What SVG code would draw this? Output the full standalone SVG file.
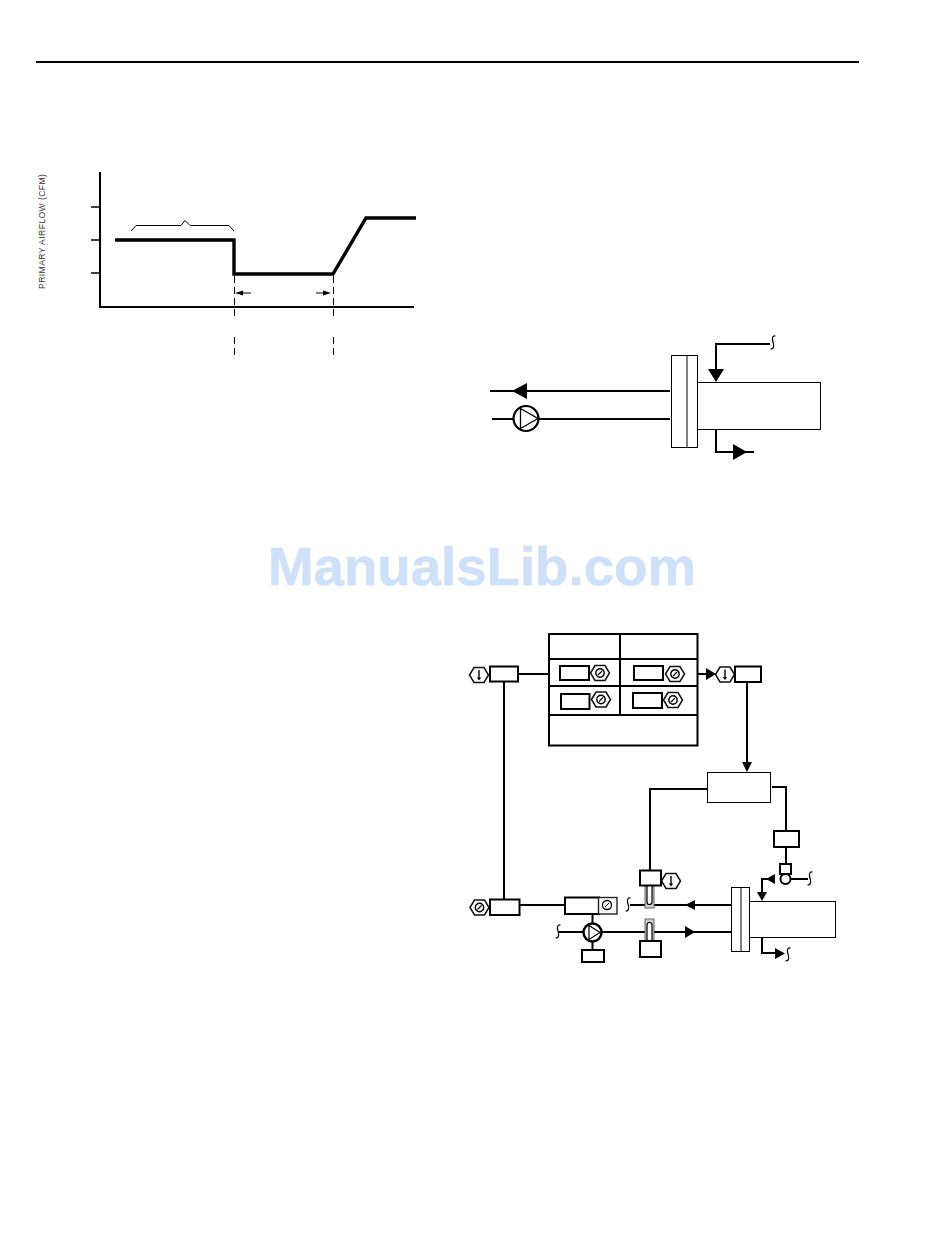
<svg xmlns="http://www.w3.org/2000/svg" width="950" height="1241" viewBox="0 0 950 1241">
<style>
.l{fill:none;stroke:#000;stroke-width:2}
.t{fill:none;stroke:#000;stroke-width:1.300}
.h{fill:none;stroke:#000;stroke-width:3.400;stroke-linejoin:miter}
.d{fill:none;stroke:#000;stroke-width:1;stroke-dasharray:7 4}
.b{fill:#fff;stroke:#000;stroke-width:2}
.n{fill:#fff;stroke:#000;stroke-width:1}
.a{fill:#000;stroke:none}
.s{fill:none;stroke:#000;stroke-width:1}
.sq{fill:none;stroke:#000;stroke-width:1.200}
.hex{fill:#fff;stroke:#111;stroke-width:1.500}
</style>
<defs>
<g id="hexg"><polygon class="hex" points="-9.500,0 -5,-7.500 5,-7.500 9.500,0 5,7.500 -5,7.500"/><circle cx="0" cy="0" r="4.200" fill="none" stroke="#000" stroke-width="1.400"/><path d="M-2,2L2,-2" stroke="#000" stroke-width="1.100"/></g>
<g id="hext"><polygon class="hex" points="-9.500,0 -5,-7.500 5,-7.500 9.500,0 5,7.500 -5,7.500"/><path d="M0,-5V3" stroke="#000" stroke-width="1.400"/><path d="M-2.200,2.500H2.200L0,5.500Z" fill="#000"/></g>
<path id="sq" class="sq" d="M2.500,-7C-1,-7.500,-1,-4,0,-1C1,2,1.500,6,-2.500,6"/>
</defs>

<g id="header-rule"><path d="M36,62H859" fill="none" stroke="#000" stroke-width="2"/></g>

<g id="airflow-chart">
<path class="l" d="M100,172V307H414"/>
<path class="t" d="M91,207H100M91,240H100M91,273H100"/>
<path class="h" d="M115,240H234V274H333L366,218H416"/>
<path class="s" d="M131,231L136,225.500H181L185,220.500L190,225.500H229L234,231"/>
<path class="d" d="M234.500,276V317M234.500,337V356M333.500,276V317M333.500,337V356"/>
<path class="s" d="M242,293H251M316,293H323"/>
<path class="a" d="M235,293L243,290.500V295.500ZM331,293L323,290.500V295.500Z"/>
<text transform="translate(45,289) rotate(-90)" font-family="'Liberation Sans',Arial,sans-serif" font-size="8.600" fill="#333" textLength="115">PRIMARY AIRFLOW (CFM)</text>
</g>

<g id="connectors-upper">
<path class="l" d="M490,391H670M492,419H513M539,419H670M716,369V344H770M716,430V452H754"/>
<path class="a" d="M512,391L527,383V399ZM708,369H724L716,382ZM733,444L747,452L733,460Z"/>
<use href="#sq" x="773" y="343"/>
</g>
<g id="upper-exchanger">
<rect class="n" x="671.500" y="355.500" width="26" height="92"/>
<path class="s" d="M687,355.500V447.500"/>
<rect class="n" x="697.500" y="382.500" width="123" height="47"/>
</g>
<g id="upper-pump">
<circle cx="526" cy="418.500" r="12.500" fill="#fff" stroke="#000" stroke-width="2.200"/>
<path d="M520.500,408.500L538,418.500L520.500,428.500Z" fill="none" stroke="#000" stroke-width="1.300"/>
</g>

<g id="watermark"><text x="268" y="585" font-family="'Liberation Sans',Arial,sans-serif" font-weight="700" font-size="54" fill="#cfe0f9" stroke="#cfe0f9" stroke-width="0.600" textLength="428" lengthAdjust="spacingAndGlyphs">ManualsLib.com</text></g>

<g id="connectors-lower">
<path class="l" d="M518,674H549M504,681V899M520,905H565M698,674H708M747,682V764M707,789H650V870M772,787H786V831M786,847V864M592.500,914V924M592.500,941V951M559,932H584M602,932H731M630,905H731M785,879H808M775,879H762V893M762,937V953H776"/>
<path class="a" d="M706,668L716,674L706,680ZM742,762H752L747,772ZM695,900L685,905L695,910ZM685,926L695,932L685,938ZM775,874L766,879L775,884ZM757,892H767L762,901ZM775,948L785,953.500L775,959Z"/>
<use href="#sq" x="810" y="879"/>
<use href="#sq" x="788" y="955"/>
<use href="#sq" x="628" y="905"/>
<use href="#sq" x="558" y="932"/>
</g>

<g id="schedule-table">
<rect class="b" x="549" y="634" width="148.500" height="111.500"/>
<path class="l" d="M549,659H697M549,686H697M549,715H697M620,634V715"/>
</g>
<g id="table-cell-1"><rect class="b" x="560" y="666" width="29" height="14"/><use href="#hexg" x="600" y="673"/></g>
<g id="table-cell-2"><rect class="b" x="634" y="666" width="29" height="14"/><use href="#hexg" x="675" y="674"/></g>
<g id="table-cell-3"><rect class="b" x="561" y="694" width="28.500" height="15"/><use href="#hexg" x="601" y="699.500"/></g>
<g id="table-cell-4"><rect class="b" x="633" y="693" width="29" height="15"/><use href="#hexg" x="673" y="700"/></g>

<g id="sensor-left-top"><use href="#hext" x="479" y="675"/><rect class="b" x="490" y="666.500" width="28" height="15"/></g>
<g id="sensor-right-top"><use href="#hext" x="725" y="674.500"/><rect class="b" x="735" y="666.500" width="26" height="15.500"/></g>
<g id="controller"><rect class="n" x="707.500" y="772.500" width="63" height="30"/></g>
<g id="actuator-box"><rect class="b" x="774" y="831" width="25" height="16"/></g>
<g id="valve"><rect class="b" x="780" y="864" width="11" height="10"/><circle cx="785.500" cy="879" r="5" fill="#fff" stroke="#000" stroke-width="2"/></g>
<g id="lower-exchanger">
<rect class="n" x="731.500" y="887.500" width="18" height="64"/>
<path class="s" d="M741,887.500V951.500"/>
<rect class="n" x="749.500" y="901.500" width="86" height="36"/>
</g>
<g id="sensor-left-bottom"><use href="#hexg" x="479.500" y="907.500"/><rect class="b" x="490" y="899.500" width="29.500" height="15.500"/></g>
<g id="drive-box">
<rect class="b" x="565" y="897.500" width="34" height="16.500"/>
<rect x="598.500" y="897.500" width="18.500" height="16.500" fill="#fff" stroke="#222" stroke-width="1.400"/>
<circle cx="607" cy="905" r="4.500" fill="none" stroke="#000" stroke-width="1.300"/><path d="M605,907L609,903" stroke="#000" stroke-width="1"/>
</g>
<g id="lower-pump">
<circle cx="592.500" cy="932.500" r="9" fill="#fff" stroke="#000" stroke-width="2.400"/>
<path d="M589,925.500L600,932.500L589,939.500Z" fill="none" stroke="#000" stroke-width="1.200"/>
</g>
<g id="pump-box"><rect class="b" x="582" y="950" width="22" height="12"/></g>
<g id="upper-well">
<rect x="645" y="886" width="9" height="22" fill="#ccc" stroke="#666" stroke-width="1"/>
<path d="M647,885V902A2.500,2.500,0,0,0,652,902V885" fill="#fff" stroke="#000" stroke-width="1.200"/>
<rect class="b" x="640" y="870.500" width="21" height="15"/>
<use href="#hext" x="671" y="881"/>
</g>
<g id="lower-well">
<rect x="645" y="919" width="9" height="22" fill="#ccc" stroke="#666" stroke-width="1"/>
<path d="M647,941V925A2.500,2.500,0,0,1,652,925V941" fill="#fff" stroke="#000" stroke-width="1.200"/>
<rect class="b" x="640" y="941" width="21" height="16"/>
</g>
</svg>
